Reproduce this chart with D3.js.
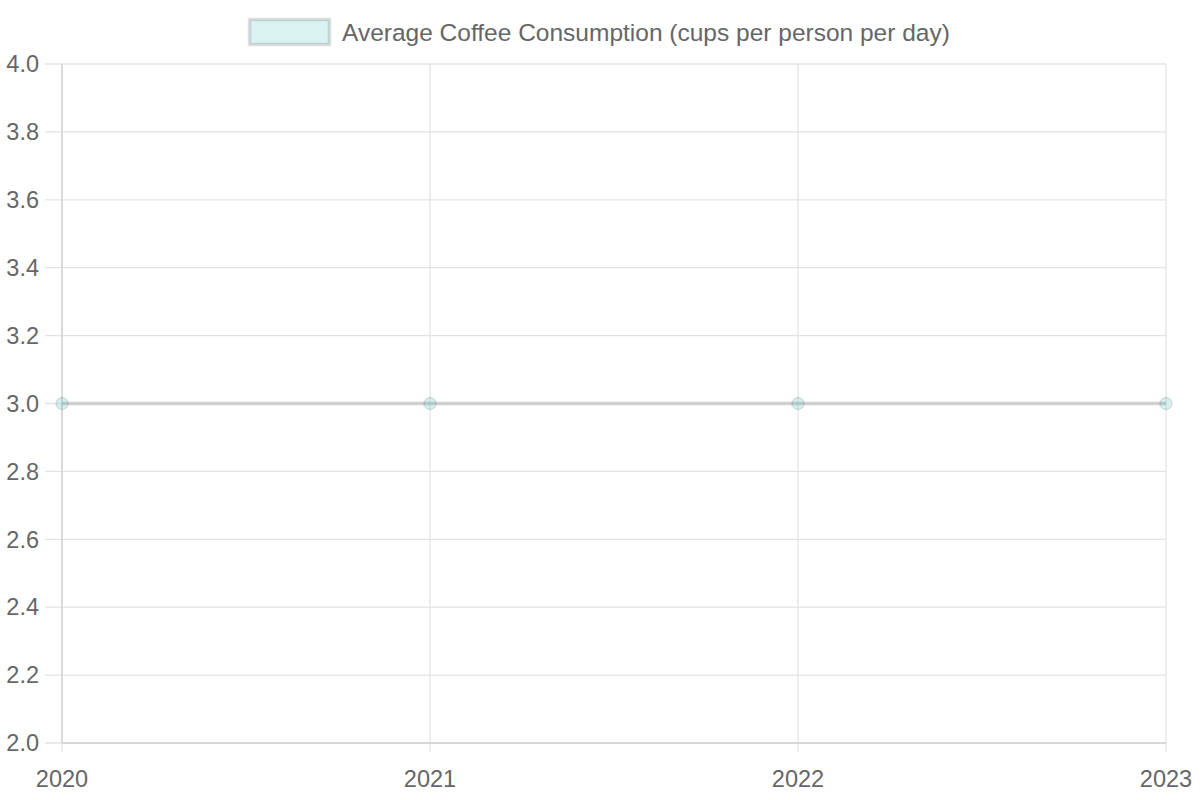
<!DOCTYPE html>
<html><head><meta charset="utf-8">
<script src="https://cdn.jsdelivr.net/npm/d3@7"></script>
<style>body{margin:0;background:#fff}svg{display:block}text{font-family:"Liberation Sans",Arial,sans-serif}</style>
</head><body>
<svg id="c" width="1200" height="800"></svg>
<script>
const years = ["2020", "2021", "2022", "2023"];
const cups = [3.0, 3.0, 3.0, 3.0];
const yTicks = [2.0, 2.2, 2.4, 2.6, 2.8, 3.0, 3.2, 3.4, 3.6, 3.8, 4.0];
const seriesLabel = "Average Coffee Consumption (cups per person per day)";

const svg = d3.select("#c");
const L = 62, R = 1166, T = 64, B = 743;
const x = d3.scalePoint().domain(years).range([L, R]);
const y = d3.scaleLinear().domain([2, 4]).range([B, T]);
const grid = "#e3e3e3";

// horizontal grid
svg.append("g").selectAll("line").data(yTicks).join("line")
  .attr("x1", L - 17).attr("x2", R).attr("y1", d => y(d)).attr("y2", d => y(d))
  .attr("stroke", grid).attr("stroke-width", 1.3);
// vertical grid
svg.append("g").selectAll("line").data(years).join("line")
  .attr("x1", d => x(d)).attr("x2", d => x(d)).attr("y1", T).attr("y2", B + 9)
  .attr("stroke", grid).attr("stroke-width", 1.3);
// axis lines
svg.append("line").attr("x1", L).attr("x2", L).attr("y1", T).attr("y2", B).attr("stroke", "#d0d0d0").attr("stroke-width", 1.3);
svg.append("line").attr("x1", L).attr("x2", R).attr("y1", B).attr("y2", B).attr("stroke", "#d0d0d0").attr("stroke-width", 1.3);

// y labels
svg.append("g").selectAll("text").data(yTicks).join("text")
  .attr("x", 39).attr("y", d => y(d)).attr("dy", "0.35em").attr("text-anchor", "end")
  .attr("font-size", 23.5).attr("fill", "#666").text(d => d.toFixed(1));
// x labels
svg.append("g").selectAll("text").data(years).join("text")
  .attr("x", d => x(d)).attr("y", 787).attr("text-anchor", "middle")
  .attr("font-size", 23.5).attr("fill", "#666").text(d => d);

// line
const data = years.map((d, i) => ({ k: d, v: cups[i] }));
svg.append("path").datum(data)
  .attr("d", d3.line().x(d => x(d.k)).y(d => y(d.v)))
  .attr("fill", "none").attr("stroke", "rgba(0,0,0,0.13)").attr("stroke-width", 4);
svg.append("g").selectAll("circle").data(data).join("circle")
  .attr("cx", d => x(d.k)).attr("cy", d => y(d.v)).attr("r", 6)
  .attr("fill", "rgba(75,192,192,0.22)").attr("stroke", "rgba(0,0,0,0.1)").attr("stroke-width", 1.5);

// legend
svg.append("rect").attr("x", 249.5).attr("y", 19.5).attr("width", 80).attr("height", 25)
  .attr("fill", "rgba(75,192,192,0.2)").attr("stroke", "rgba(0,0,0,0.13)").attr("stroke-width", 3.5);
svg.append("text").attr("x", 342).attr("y", 41).attr("font-size", 24.5).attr("fill", "#666").text(seriesLabel);
</script>
</body></html>
